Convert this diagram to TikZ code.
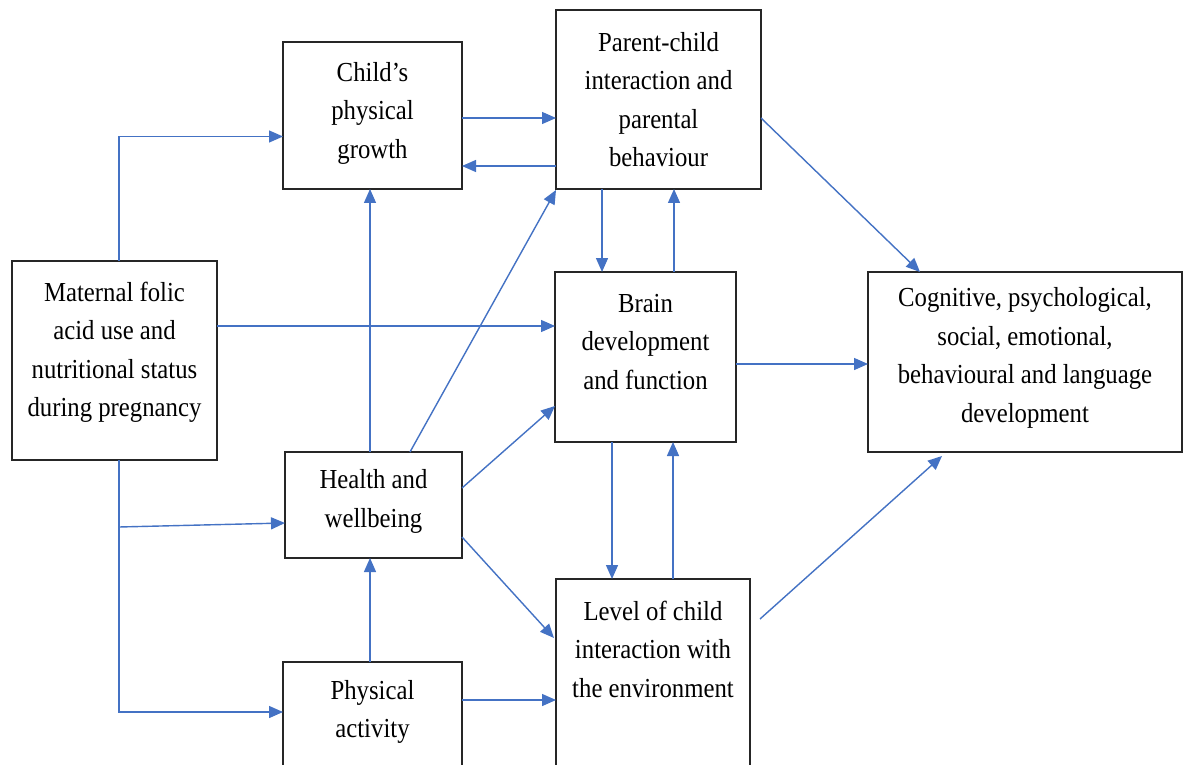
\documentclass[tikz,border=0pt]{standalone}
\usepackage{fontspec}
\setmainfont{Liberation Serif}[FakeStretch=0.9]
\usetikzlibrary{arrows.meta,calc}
\definecolor{lineblue}{HTML}{4472C4}
\begin{document}
\begin{tikzpicture}[x=1pt,y=-1pt,
  box/.style={draw=black!85, line width=1.6pt, fill=none, inner sep=0pt, outer sep=0pt},
  txt/.style={align=center, inner sep=0pt, font=\fontsize{27.5}{38.5}\selectfont},
  arr/.style={draw=lineblue, line width=1.4pt, -{Triangle[length=14pt,width=12pt]}},
  ln/.style={draw=lineblue, line width=1.4pt}]
\useasboundingbox (0,0) rectangle (1187,765);
\fill[white] (0,0) rectangle (1187,765);
\clip (0,0) rectangle (1187,765);
% boxes
\node[box, minimum width=179pt, minimum height=147pt] (growth) at (372.5,115.5) {};
\node[box, minimum width=205pt, minimum height=179pt] (parent) at (658.5,99.5) {};
\node[box, minimum width=205pt, minimum height=199pt] (maternal) at (114.5,360.5) {};
\node[box, minimum width=181pt, minimum height=170pt] (brain) at (645.5,357) {};
\node[box, minimum width=314pt, minimum height=180pt] (cog) at (1025,362) {};
\node[box, minimum width=177pt, minimum height=106pt] (health) at (373.5,505) {};
\node[box, minimum width=194pt, minimum height=211pt] (level) at (653,684.5) {};
\node[box, minimum width=179pt, minimum height=128pt] (phys) at (372.5,726) {};
% texts
\node[txt] (tgrowth) at ($(growth.center)+(0,-2.5)$) {Child’s\\physical\\growth};
\node[txt] (tparent) at ($(parent.center)+(0,0)$) {Parent-child\\interaction and\\parental\\behaviour};
\node[txt] (tmaternal) at ($(maternal.center)+(0,-8)$) {Maternal folic\\acid use and\\nutritional status\\during pregnancy};
\node[txt] (tbrain) at ($(brain.center)+(0,-15)$) {Brain\\development\\and function};
\node[txt] (tcog) at ($(cog.center)+(0,-4)$) {Cognitive, psychological,\\social, emotional,\\behavioural and language\\development};
\node[txt] (thealth) at ($(health.center)+(0,-3.5)$) {Health and\\wellbeing};
\node[txt] (tlevel) at ($(level.center)+(0,-35.5)$) {Level of child\\interaction with\\the environment};
\node[txt] (tphys) at ($(phys.center)+(0,-14)$) {Physical\\activity};
% helper coordinates
\coordinate (mtop) at ($(maternal.north)+(4.5,0)$);
\coordinate (mbot) at ($(maternal.south)+(4.5,0)$);
\coordinate (br) at ($(maternal.south)+(4.5,67)$);
\coordinate (m1) at ($(maternal.east)+(0,-34.5)$);
\coordinate (g1) at ($(growth.east)+(0,2.5)$);
\coordinate (p1) at ($(parent.west)+(0,66.5)$);
\coordinate (p2) at ($(parent.south)+(-56.5,0)$);
\coordinate (b1) at ($(brain.north)+(28.5,0)$);
\coordinate (b2) at ($(brain.south)+(-33.5,0)$);
\coordinate (l1) at ($(level.north)+(20,0)$);
\coordinate (b3) at ($(brain.east)+(0,7)$);
\coordinate (h1) at ($(health.north)+(-3.5,0)$);
\coordinate (ph1) at ($(phys.north)+(-2.5,0)$);
\coordinate (ph2) at ($(phys.east)+(0,-26)$);
% connectors
\draw[arr] (mtop) |- ($(growth.west)+(0,21)$);
\draw[arr] (mbot) |- ($(phys.west)+(0,-14)$);
\draw[arr] (br) -- ($(health.west)+(0,18)$);
\draw[arr] (m1) -- (m1 -| brain.west);
\draw[arr] (g1) -- (g1 -| parent.west);
\draw[arr] (p1) -- (p1 -| growth.east);
\draw[arr] (p2) -- (p2 |- brain.north);
\draw[arr] (b1) -- (b1 |- parent.south);
\draw[arr] (b2) -- (b2 |- level.north);
\draw[arr] (l1) -- (l1 |- brain.south);
\draw[arr] (b3) -- (b3 -| cog.west);
\draw[arr] ($(parent.east)+(0,18.5)$) -- ($(cog.north)+(-105,0)$);
\draw[arr] ($(level.east)+(10,-65.5)$) -- ($(cog.south)+(-83,4)$);
\draw[arr] (h1) -- (h1 |- growth.south);
\draw[arr] ($(health.north)+(36.5,0)$) -- ($(parent.south west)+(0,1)$);
\draw[arr] ($(health.east)+(0,-17)$) -- ($(brain.west)+(0,49)$);
\draw[arr] ($(health.east)+(0,32)$) -- ($(level.west)+(-2,-46.5)$);
\draw[arr] (ph1) -- (ph1 |- health.south);
\draw[arr] (ph2) -- (ph2 -| level.west);
\end{tikzpicture}
\end{document}
